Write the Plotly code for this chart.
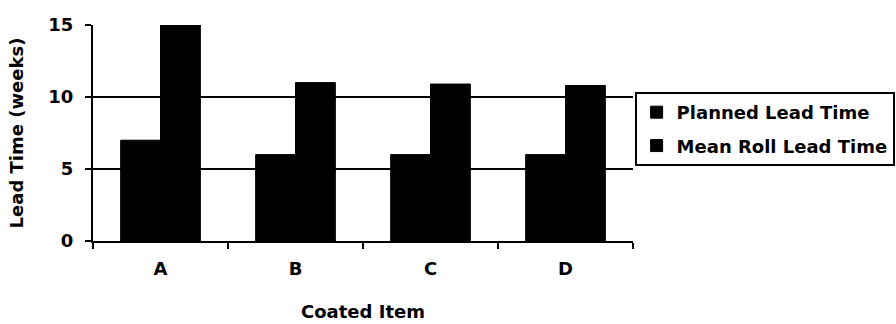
import plotly.graph_objects as go

# Lead times per coated item
items = ["A", "B", "C", "D"]
planned_lead = [7, 6, 6, 6]
mean_roll_lead = [15, 11, 10.9, 10.8]
y_ticks = [0, 5, 10, 15]

FONT = "DejaVu Sans"

fig = go.Figure()
fig.add_trace(go.Bar(
    x=items, y=planned_lead, name="<b>Planned Lead Time</b>",
    marker=dict(color="black", line=dict(width=1, color="black")), legendgroup="p",
))
fig.add_trace(go.Bar(
    x=items, y=mean_roll_lead, name="<b>Mean Roll Lead Time</b>",
    marker=dict(color="black", line=dict(width=1, color="black")), legendgroup="m",
))

fig.update_layout(
    width=896, height=324,
    margin=dict(l=93, r=263, t=25, b=83, autoexpand=False),
    paper_bgcolor="white", plot_bgcolor="white",
    barmode="group", bargap=0.41, bargroupgap=0,
    font=dict(family=FONT, size=18, color="black"),
    showlegend=True,
    legend=dict(
        x=1.003, xanchor="left", y=0.69, yanchor="top",
        bordercolor="black", borderwidth=2, bgcolor="white",
        traceorder="grouped", tracegroupgap=7,
        font=dict(family=FONT, size=18, color="black"),
        itemwidth=30,
    ),
    xaxis=dict(
        showline=True, linecolor="black", linewidth=2,
        ticks="outside", ticklen=6, tickwidth=2, tickcolor="black",
        tickson="boundaries", ticklabelstandoff=10,
        tickfont=dict(family=FONT, size=18, color="black"),
        tickvals=items, ticktext=[f"<b>{c}</b>" for c in items],
        title=dict(text="<b>Coated Item</b>", standoff=28,
                   font=dict(family=FONT, size=18, color="black")),
        showgrid=False,
    ),
    yaxis=dict(
        range=[0, 15], tickvals=y_ticks,
        ticktext=[f"<b>{v}</b>" for v in y_ticks],
        showline=True, linecolor="black", linewidth=2,
        ticks="outside", ticklen=6, tickwidth=2, tickcolor="black",
        ticklabelstandoff=8,
        showgrid=True, gridcolor="black", gridwidth=2,
        zeroline=False,
        tickfont=dict(family=FONT, size=18, color="black"),
        title=dict(text="<b>Lead Time (weeks)</b>", standoff=20,
                   font=dict(family=FONT, size=18, color="black")),
    ),
)

fig.write_html("out.html")
